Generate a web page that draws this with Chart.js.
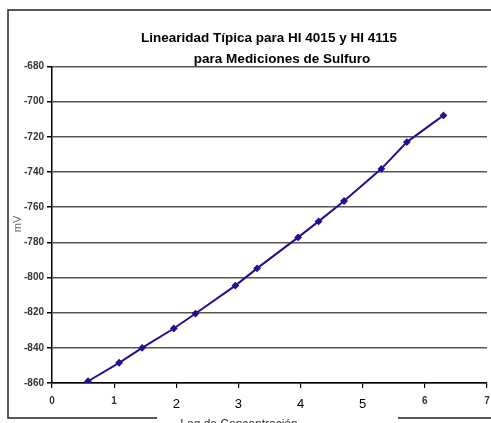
<!DOCTYPE html>
<html>
<head>
<meta charset="utf-8">
<script src="https://cdn.jsdelivr.net/npm/chart.js@4.4.1/dist/chart.umd.min.js"></script>
<style>
  body { margin: 0; background: #fff; }
  canvas { display: block; }
</style>
</head>
<body>
<canvas id="grafico" width="491" height="423"></canvas>
<script>
// -Log de concentracion vs mV
const logConc = [0.58, 1.08, 1.45, 1.96, 2.31, 2.95, 3.30, 3.96, 4.29, 4.70, 5.30, 5.71, 6.30]
const milivolts = [-859, -848.5, -840, -829, -820.5, -804.6, -794.8, -777.2, -768.1, -756.5, -738.2, -723, -707.8]
const xTicks = [0, 1, 2, 3, 4, 5, 6, 7]
const yTicks = [-860, -840, -820, -800, -780, -760, -740, -720, -700, -680]
const titulo = ['Linearidad Típica para HI 4015 y HI 4115', 'para Mediciones de Sulfuro']
const tituloX = '-Log de Concentración'
const tituloY = 'mV'

// los numeros 2..5 del eje x salen mas grandes en el original
const grande = (ctx) => !!ctx.tick && ctx.tick.value >= 2 && ctx.tick.value <= 5

// marco, titulos (como en el original escaneado)
const marco = {
    id: 'marco',
    afterDraw(chart) {
        const c = chart.ctx
        c.save()
        c.strokeStyle = '#222'
        c.lineWidth = 1.5
        c.beginPath()
        c.moveTo(491, 10); c.lineTo(8, 10); c.lineTo(8, 418); c.lineTo(157, 418)
        c.moveTo(398, 418); c.lineTo(491, 418)
        c.stroke()

        c.fillStyle = '#000'
        c.textAlign = 'center'
        c.textBaseline = 'middle'
        c.font = 'bold 13.5px Arial'
        c.fillText(titulo[0], 269, 38)
        c.fillText(titulo[1], 282, 59)

        c.fillStyle = '#333'
        c.font = '12px Arial'
        c.textBaseline = 'top'
        c.fillText(tituloX, 237, 419)

        c.translate(18, 224)
        c.rotate(-Math.PI / 2)
        c.fillStyle = '#666'
        c.font = '11px Arial'
        c.textBaseline = 'middle'
        c.fillText(tituloY, 0, 0)
        c.restore()
    }
}

window.onload = () => {
    const contexto = document.getElementById('grafico').getContext('2d')

    new Chart(contexto, {
        type: 'line',
        data: {
            datasets: [{
                label: 'mV',
                data: logConc.map((x, i) => ({ x: x, y: milivolts[i] })),
                borderColor: '#1f1190',
                backgroundColor: '#1f1190',
                borderWidth: 2,
                pointStyle: 'rectRot',
                pointRadius: 2.5,
                fill: false,
                tension: 0
            }]
        },
        options: {
            responsive: false,
            animation: false,
            layout: { autoPadding: false, padding: { left: 0, top: 66.5, right: 4, bottom: 0 } },
            plugins: {
                legend: { display: false },
                title: { display: false },
                tooltip: { enabled: false }
            },
            scales: {
                x: {
                    type: 'linear',
                    min: xTicks[0],
                    max: xTicks[xTicks.length - 1],
                    afterFit: (s) => { s.height = 40; s.paddingLeft = 0; s.paddingRight = 0 },
                    border: { color: '#000', width: 1.5 },
                    grid: { drawOnChartArea: false, tickLength: 5, color: '#000', lineWidth: 1.2 },
                    ticks: {
                        stepSize: 1,
                        padding: 7,
                        maxRotation: 0,
                        color: (ctx) => grande(ctx) ? '#000' : '#333',
                        font: (ctx) => grande(ctx)
                            ? { family: 'Arial', size: 13, lineHeight: 1.5 }
                            : { family: 'Arial', size: 10, weight: 'bold', lineHeight: 1.2 }
                    }
                },
                y: {
                    min: yTicks[0],
                    max: yTicks[yTicks.length - 1],
                    afterFit: (s) => { s.width = 52; s.paddingTop = 0; s.paddingBottom = 0 },
                    border: { color: '#000', width: 1.5 },
                    grid: { color: '#555', lineWidth: 1.5, tickLength: 5, tickColor: '#000' },
                    ticks: {
                        stepSize: 20,
                        padding: 3,
                        color: '#333',
                        font: { family: 'Arial', size: 10, weight: 'bold' }
                    }
                }
            }
        },
        plugins: [marco]
    })
}
</script>
</body>
</html>
